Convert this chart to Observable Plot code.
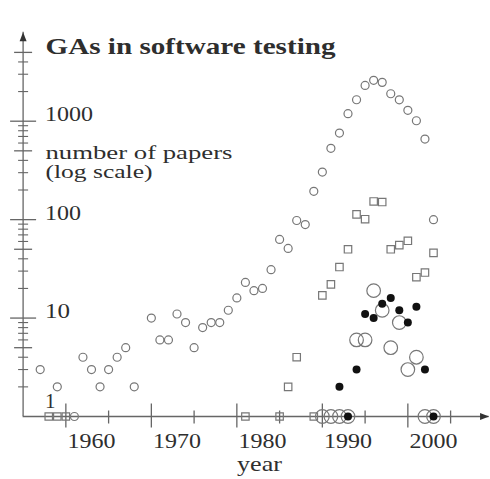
<!DOCTYPE html>
<html><head><meta charset="utf-8">
<script src="https://cdn.jsdelivr.net/npm/d3@7"></script>
<script src="https://cdn.jsdelivr.net/npm/@observablehq/plot@0.6"></script>
<style>body{margin:0;background:#fff} svg{display:block}</style>
</head><body><div id="chart"></div>
<script>
// ---- data ----
const titleText = "GAs in software testing";
const yAxisTitle = ["number of papers", "(log scale)"];
const xAxisTitle = "year";

const allYears  = [1954,1956,1958,1959,1960,1961,1962,1963,1964,1965,1967,1968,1969,1970,1971,1972,1973,1974,1975,1976,1977,1978,1979,1980,1981,1982,1983,1984,1985,1986,1987,1988,1989,1990,1991,1992,1993,1994,1995,1996,1997,1998,1999,2000];
const allCounts = [3,2,1,4,3,2,3,4,5,2,10,6,6,11,9,5,8,9,9,12,16,23,19,20,31,63,51,98,89,194,304,530,757,1192,1652,2310,2600,2480,1900,1650,1290,1010,658,100];

const sqYears  = [1955,1956,1957,1978,1982,1983,1984,1986,1987,1988,1989,1990,1991,1992,1993,1994,1995,1996,1997,1998,1999,2000];
const sqCounts = [1,1,1,1,1,2,4,1,17,22,33,50,113,101,153,151,50,55,61,26,29,46];

const bigYears  = [1987,1988,1989,1990,1991,1992,1993,1994,1995,1996,1997,1998,1999,2000];
const bigCounts = [1,1,1,1,6,6,19,12,5,9,3,4,1,1];

const testYears  = [1989,1990,1991,1992,1993,1994,1995,1996,1997,1998,1999,2000];
const testCounts = [2,1,3,11,10,14,16,12,9,13,3,1];

const xLabelYears = [1960,1970,1980,1990,2000];
const xLongTicks  = [1957,1967,1977,1987,1997];
const xShortTicks = [1962,1972,1982,1992,2002];
const yLabelValues = [1000,100,10];
const yLongTicks   = [10,100,1000];
const yMidTicks    = [5,50,500,5000];
const yMinorTicks  = [2,3,4,6,7,8,9,20,30,40,60,70,80,90,200,300,400,600,700,800,900,2000,3000,4000];
const yAxisAt = 1952, xAxisEnd = 2006.5, yAxisEnd = 8000;

// ---- build ----
const rows = (ys, ns) => ys.map((y, i) => ({year: y, n: ns[i]}));
const FONT = "'Liberation Serif', 'Times New Roman', serif";
const AXIS = "#666", MARK = "#777", TEXT = "#2e2e2e";
const hline = a => ({draw(c){c.moveTo(-a,0); c.lineTo(a,0);}});
const vline = (a,b) => ({draw(c){c.moveTo(0,-a); c.lineTo(0,b);}});
const arrowUp = {draw(c){c.moveTo(0,0); c.lineTo(-3.5,9); c.lineTo(3.5,9); c.closePath();}};
const arrowRight = {draw(c){c.moveTo(0,0); c.lineTo(-9,-3.5); c.lineTo(-9,3.5); c.closePath();}};
const tstyle = {fontFamily: FONT, fill: TEXT, fontSize: 21, textAnchor: "start", lineAnchor: "bottom"};

const chart = Plot.plot({
  width: 490, height: 479, margin: 0,
  style: {background: "#fff", fontFamily: FONT, overflow: "visible"},
  x: {domain: [1960, 2000], range: [91, 433], axis: null},
  y: {type: "log", domain: [1, 1000], range: [416, 120.7], axis: null},
  marks: [
    // axes
    Plot.ruleX([yAxisAt], {y1: 1, y2: yAxisEnd, stroke: AXIS, strokeWidth: 1.3}),
    Plot.ruleY([1], {x1: yAxisAt, x2: xAxisEnd, stroke: AXIS, strokeWidth: 1.3}),
    Plot.dot([0], {x: yAxisAt, y: yAxisEnd, symbol: arrowUp, fill: "#333", stroke: "none"}),
    Plot.dot([0], {x: xAxisEnd, y: 1, symbol: arrowRight, fill: "#333", stroke: "none"}),
    Plot.dot(yLongTicks, {x: yAxisAt, y: d => d, symbol: hline(13), fill: "none", stroke: AXIS, strokeWidth: 1.3}),
    Plot.dot(yMidTicks, {x: yAxisAt, y: d => d, symbol: hline(9), fill: "none", stroke: AXIS, strokeWidth: 1.3}),
    Plot.dot(yMinorTicks, {x: yAxisAt, y: d => d, symbol: hline(5), fill: "none", stroke: AXIS, strokeWidth: 1.1}),
    Plot.dot(xLongTicks, {x: d => d, y: 1, symbol: vline(13, 11), fill: "none", stroke: AXIS, strokeWidth: 1.3}),
    Plot.dot(xShortTicks, {x: d => d, y: 1, symbol: vline(6, 7), fill: "none", stroke: AXIS, strokeWidth: 1.3}),
    // labels
    Plot.text(yLabelValues, {x: yAxisAt, y: d => d, text: d => String(d), dx: 22, ...tstyle}),
    Plot.text([1], {x: yAxisAt, y: d => d, text: d => String(d), dx: 22, dy: -9, ...tstyle}),
    Plot.text(xLabelYears, {x: d => d, y: 1, text: d => String(d), dy: 31, ...tstyle, textAnchor: "middle"}),
    Plot.text([titleText], {frameAnchor: "top-left", text: d => d, dx: 45, dy: 53, ...tstyle, fontSize: 23, fontWeight: "bold"}),
    Plot.text([yAxisTitle[0]], {frameAnchor: "top-left", text: d => d, dx: 45, dy: 158, ...tstyle, fontSize: 19}),
    Plot.text([yAxisTitle[1]], {frameAnchor: "top-left", text: d => d, dx: 45, dy: 177, ...tstyle, fontSize: 19}),
    Plot.text([xAxisTitle], {frameAnchor: "top-left", text: d => d, dx: 259, dy: 470, ...tstyle, textAnchor: "middle"}),
    // data
    Plot.dot(rows(sqYears, sqCounts), {x: "year", y: "n", symbol: "square", r: 4.2, fill: "none", stroke: MARK, strokeWidth: 1.2}),
    Plot.dot(rows(allYears, allCounts), {x: "year", y: "n", symbol: "circle", r: 4, fill: "none", stroke: MARK, strokeWidth: 1.2}),
    Plot.dot(rows(bigYears, bigCounts), {x: "year", y: "n", symbol: "circle", r: 6.8, fill: "none", stroke: MARK, strokeWidth: 1.2}),
    Plot.dot(rows(testYears, testCounts), {x: "year", y: "n", symbol: "circle", r: 4, fill: "#111", stroke: "none"})
  ]
});
document.getElementById("chart").appendChild(chart);

// stretch text horizontally to the reference's wider (Computer Modern) widths
const targetWidths = {"GAs in software testing": 290, "number of papers": 187, "(log scale)": 107, "year": 45,
  "1000": 48, "100": 36, "10": 25, "1960": 48, "1970": 48, "1980": 48, "1990": 48, "2000": 48};
d3.select(chart).selectAll("text").each(function() {
  const w = targetWidths[this.textContent];
  if (w) { this.setAttribute("textLength", w); this.setAttribute("lengthAdjust", "spacingAndGlyphs"); }
});
</script>
</body></html>
